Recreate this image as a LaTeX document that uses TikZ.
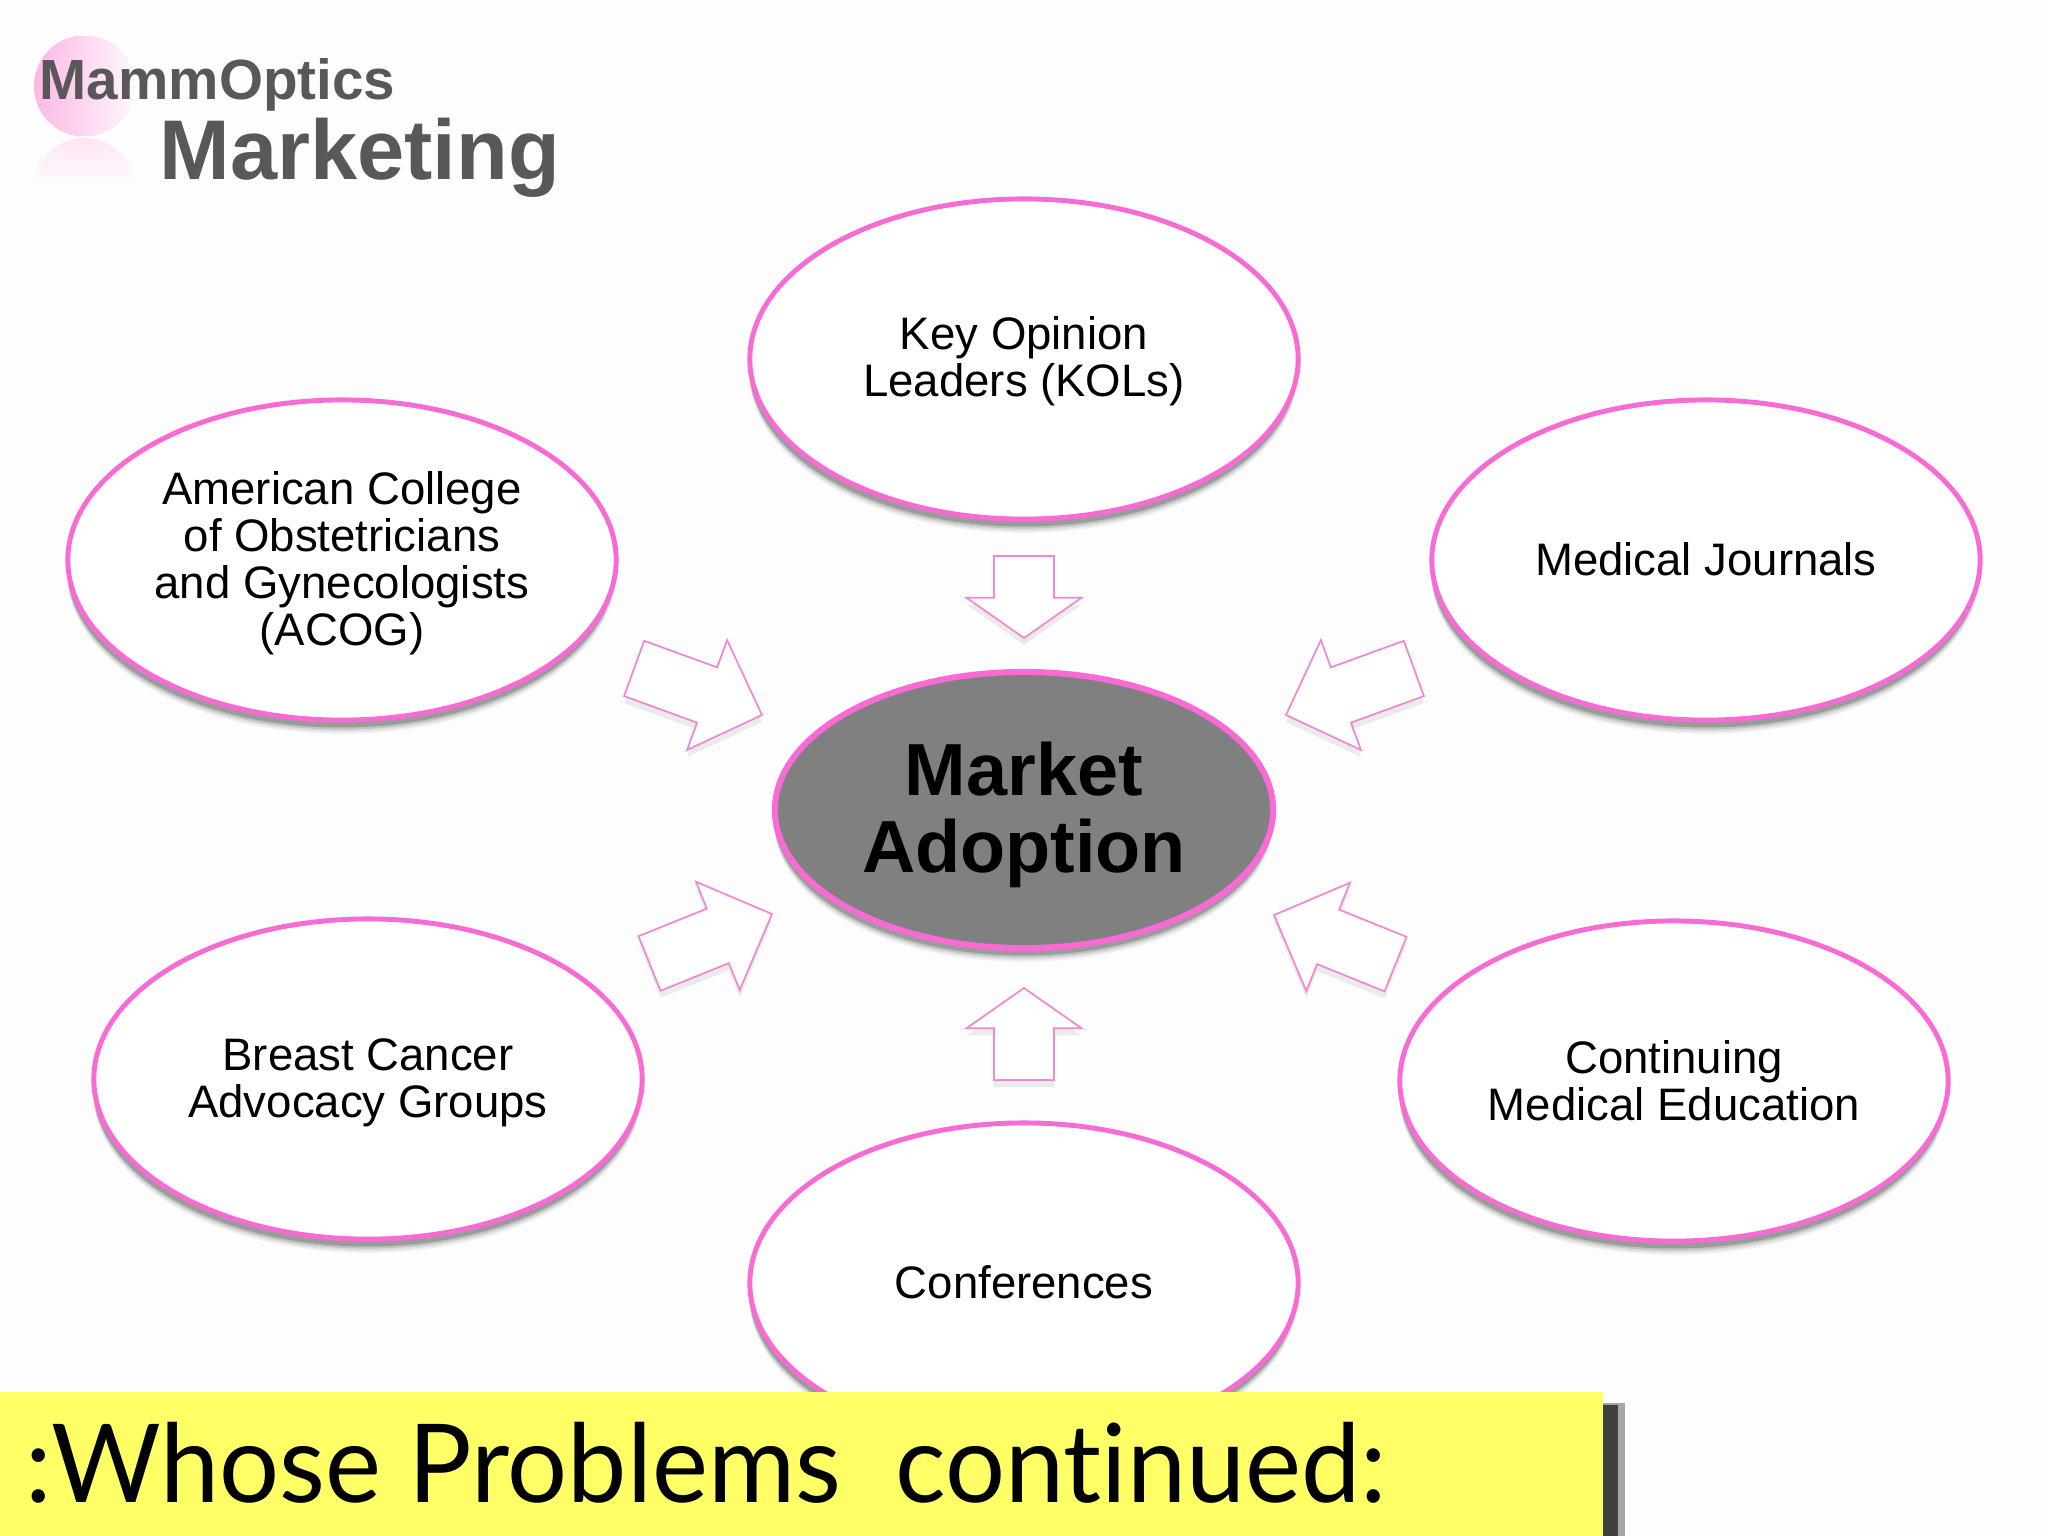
\documentclass[tikz,border=0pt]{standalone}
\usepackage{fontspec}
\setmainfont{Liberation Sans}
\newfontfamily\barfont[Ligatures=NoCommon]{Lato}
\usepackage{tikz}
\usetikzlibrary{shapes.geometric,shapes.arrows,shadows}
\definecolor{rimpink}{HTML}{F96BD4}
\definecolor{arrowpink}{HTML}{F088D6}
\definecolor{logogrey}{HTML}{59575A}
\definecolor{logopink}{HTML}{FDB9E6}
\definecolor{palepink}{HTML}{FFF8FD}
\definecolor{coregrey}{HTML}{808080}
\definecolor{baryellow}{HTML}{FFFF66}
\definecolor{pagewhite}{HTML}{FEFDFE}
\tikzset{
    softshadow/.style={
        drop shadow={shadow xshift=-.2pt,shadow yshift=-3.9pt,fill=black,opacity=.05},
        drop shadow={shadow xshift=-.2pt,shadow yshift=-3.3pt,fill=black,opacity=.08},
        drop shadow={shadow xshift=-.2pt,shadow yshift=-2.7pt,fill=black,opacity=.12},
        drop shadow={shadow xshift=-.2pt,shadow yshift=-2.1pt,fill=black,opacity=.2}},
    topic/.style={ellipse,draw=rimpink,line width=1.4pt,fill=white,softshadow,
        minimum width=5.48cm,minimum height=3.2cm,inner sep=0pt},
    topictext/.style={inner sep=0pt,align=center,font=\fontsize{12.95}{13.4}\selectfont},
    core/.style={ellipse,draw=rimpink,line width=1.7pt,fill=coregrey,softshadow,
        minimum width=4.98cm,minimum height=2.76cm,inner sep=0pt},
    coretext/.style={inner sep=0pt,align=center,font=\fontsize{21}{21.9}\selectfont\bfseries},
    inarrow/.style={single arrow,draw=arrowpink,line width=.5pt,fill=white,anchor=tip,
        drop shadow={shadow xshift=0pt,shadow yshift=-2pt,fill=black,opacity=.07},
        minimum width=1.15cm,minimum height=1.36cm,inner sep=0pt,inner ysep=.285cm,outer sep=0pt,
        single arrow head extend=.29cm,single arrow tip angle=90},
    flatarrow/.style={inarrow,minimum height=.82cm,single arrow head extend=.27cm,single arrow tip angle=110},
}
\begin{document}
\begin{tikzpicture}[x=0.01cm,y=-0.01cm]
\useasboundingbox (0,0) rectangle (2048,1536);
\fill[pagewhite] (0,0) rectangle (2048,1536);

% logo
\begin{scope}
    \clip (84,86) circle (50);
    \foreach \i in {0,4,...,100}
        \fill[palepink!\i!logopink] (34+\i,30) rectangle (140,140);
\end{scope}
\begin{scope}
    \clip (84,189) ellipse (50 and 51);
    \foreach \i in {0,5,...,100}
        \fill[white!\i!logopink!35!pagewhite] (30,138+.5*\i) rectangle (140,192);
\end{scope}
\node (brand) [anchor=base west,inner sep=0pt,text=logogrey,font=\fontsize{16.1}{17}\selectfont\bfseries] at (39,99) {MammOptics};
\node (title) [anchor=base west,inner sep=0pt,text=logogrey,font=\fontsize{24.1}{25}\selectfont\bfseries] at (159,179) {Marketing};

% outer ovals
\foreach \name/\pos/\dy/\txt in {
    kol/{1024,359}/-.7/{Key Opinion\\Leaders (KOLs)},
    acog/{342,560}/-1/{American College\\of Obstetricians\\and Gynecologists\\(ACOG)},
    journals/{1706,560}/.3/{Medical Journals},
    advocacy/{368,1079}/-1.1/{Breast Cancer\\Advocacy Groups},
    cme/{1674,1081}/0/{Continuing\\Medical Education},
    conf/{1024,1283}/.3/{Conferences}}{
    \node (\name) [topic] at (\pos) {};
    \node (\name text) [topictext] at ([yshift=\dy pt]\name.center) {\txt};
}

\node (market) [core] at (1024,810) {};
\node (market text) [coretext] at ([yshift=-1.4pt]market.center) {Market\\Adoption};

% block arrows
\node (akol) [flatarrow,rotate=-90] at (1024,638) {};
\node (aconf) [flatarrow,minimum height=.92cm,rotate=90] at (1024,988) {};
\node (aacog) [inarrow,rotate=-20] at (762,715) {};
\node (ajournals) [inarrow,rotate=200] at (1286,715) {};
\node (aadvocacy) [inarrow,minimum height=1.32cm,rotate=22] at (772,914) {};
\node (acme) [inarrow,minimum height=1.31cm,rotate=158] at (1274,915) {};

% caption
\fill[black!35] (40,1403) rectangle (1625,1536);
\fill[black!75] (40,1405) rectangle (1618,1536);
\node (bar) [anchor=north west,fill=baryellow,minimum width=16.02cm,minimum height=1.44cm,inner sep=0pt,outer sep=0pt] at (0,1392) {};
\node (caption) [anchor=base west,inner sep=0pt,xscale=.972,font=\barfont\fontsize{31}{32}\selectfont] at (25,1502) {:Whose Problems\ \ continued:};
\end{tikzpicture}
\end{document}
